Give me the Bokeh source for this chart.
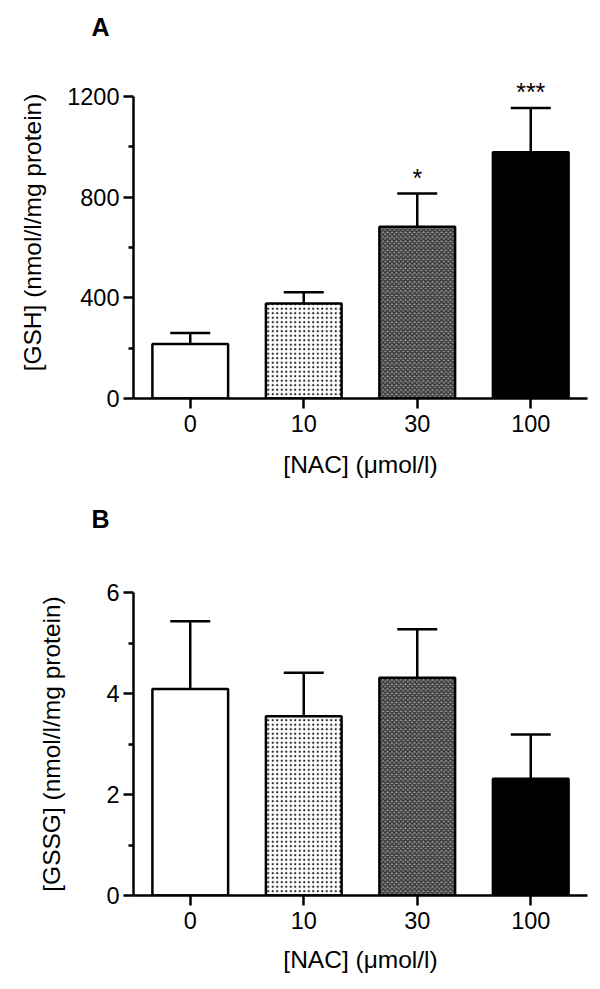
from bokeh.plotting import figure
from bokeh.layouts import column
from bokeh.models import ColumnDataSource, Whisker, TeeHead, Title, FixedTicker, Range1d
from bokeh.core.properties import value
from bokeh.embed import file_html
from bokeh.resources import INLINE

categories = ["0", "10", "30", "100"]
gsh_mean = [217, 378, 683, 979]
gsh_err = [43, 44, 132, 176]
gsh_sig = ["", "", "*", "***"]
gssg_mean = [4.09, 3.55, 4.31, 2.31]
gssg_err = [1.34, 0.86, 0.96, 0.88]
gsh_ticks = [0, 400, 800, 1200]
gsh_minor = [200, 600, 1000]
gssg_ticks = [0, 2, 4, 6]
gssg_minor = [1, 3, 5]

FONT = "Liberation Sans"
fills = ["white", "white", "#8c8c8c", "black"]
hatches = [" ", "dot", "diagonal_cross", " "]
LW = 2.5


def make_panel(letter, mean, err, ylabel, ymax, yend, ticks, minor, sig,
               top, fh, bottom, ylab_standoff, xlab_standoff, gap):
    upper = [m + e for m, e in zip(mean, err)]
    src = ColumnDataSource(dict(cat=categories, mean=mean, upper=upper,
                                fill=fills, hatch=hatches))
    p = figure(x_range=categories, y_range=Range1d(0, yend),
               frame_width=454, frame_height=fh,
               min_border_left=133, min_border_right=5,
               min_border_top=top, min_border_bottom=bottom,
               output_backend="svg", toolbar_location=None,
               background_fill_color="white", border_fill_color="white")
    p.outline_line_color = None
    p.xgrid.grid_line_color = None
    p.ygrid.grid_line_color = None

    p.vbar(x="cat", top="mean", width=0.667, source=src, fill_color="fill",
           line_color="black", line_width=LW,
           hatch_pattern="hatch", hatch_color="#222222", hatch_scale=4.5,
           hatch_weight=1.2)

    w = Whisker(base="cat", lower="mean", upper="upper", source=src,
                line_color="black", line_width=LW,
                upper_head=TeeHead(size=40, line_width=LW, line_color="black"),
                lower_head=None)
    p.add_layout(w)

    if sig is not None:
        ssrc = ColumnDataSource(dict(cat=categories, y=upper, t=sig))
        p.text(x="cat", y="y", text="t", source=ssrc, text_align="center",
               text_baseline="alphabetic", y_offset=-16,
               text_font=value(FONT), text_font_size="25px", text_color="black")

    for ax in (p.xaxis[0], p.yaxis[0]):
        ax.axis_line_width = LW
        ax.axis_line_color = "black"
        ax.major_tick_line_width = LW
        ax.major_tick_line_color = "black"
        ax.minor_tick_line_width = LW
        ax.minor_tick_line_color = "black"
        ax.major_tick_in = 0
        ax.major_tick_out = 10
        ax.minor_tick_in = 0
        ax.minor_tick_out = 5
        ax.major_label_text_font = FONT
        ax.major_label_text_font_size = "23.5px"
        ax.major_label_text_color = "black"
        ax.axis_label_text_font = FONT
        ax.axis_label_text_font_size = "24.5px"
        ax.axis_label_text_font_style = "normal"
        ax.axis_label_text_color = "black"

    p.xaxis.axis_label = "[NAC] (\u03bcmol/l)"
    p.xaxis.major_label_standoff = 6
    p.xaxis.axis_label_standoff = xlab_standoff
    p.yaxis.axis_label = ylabel
    p.yaxis.ticker = FixedTicker(ticks=ticks, minor_ticks=minor)
    p.yaxis.bounds = (0, ymax)
    p.yaxis.major_label_standoff = 4
    p.yaxis.axis_label_standoff = ylab_standoff

    # spacer (nearest the frame), then the panel letter above it
    spacer = Title(text=" ", text_font_size="1px", standoff=gap,
                   text_color="white")
    p.add_layout(spacer, "above")
    t = Title(text=letter, align="left", offset=-42, standoff=0,
              text_font=FONT, text_font_size="25px", text_font_style="bold",
              text_color="black")
    p.add_layout(t, "above")
    return p


pa = make_panel("A", gsh_mean, gsh_err, "[GSH] (nmol/l/mg protein)",
                1200, 1320, gsh_ticks, gsh_minor, gsh_sig,
                66, 332, 90, 18, 16, 23)
pb = make_panel("B", gssg_mean, gssg_err, "[GSSG] (nmol/l/mg protein)",
                6, 6, gssg_ticks, gssg_minor, None,
                104, 303, 78, 38, 14, 57)

layout = column(pa, pb, spacing=0)
open("out.html", "w").write(file_html(layout, INLINE))
